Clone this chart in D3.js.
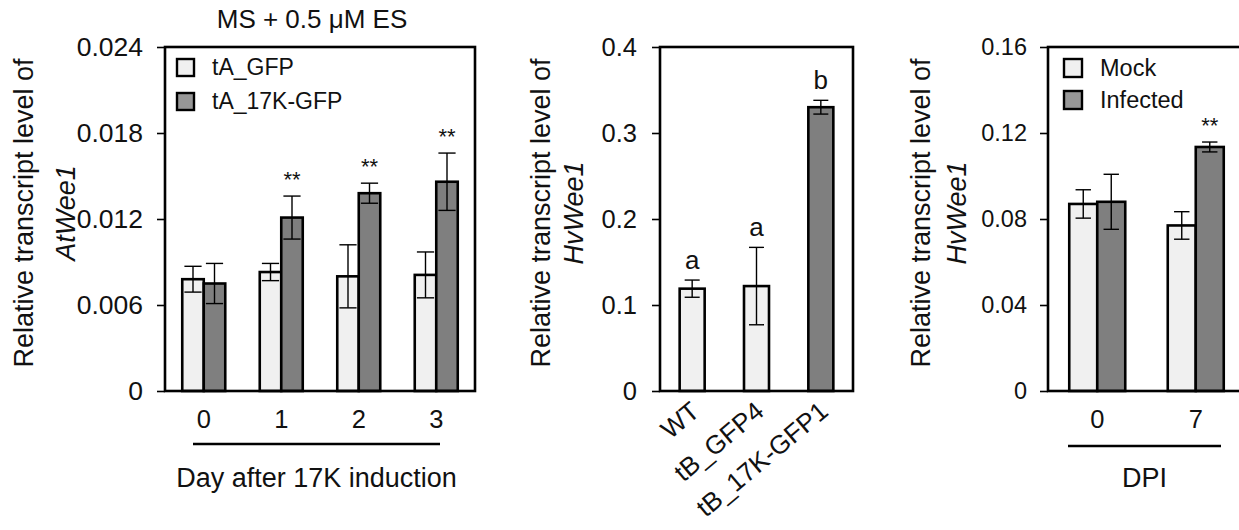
<!DOCTYPE html>
<html>
<head>
<meta charset="utf-8">
<script src="https://cdn.jsdelivr.net/npm/d3@7"></script>
<style>
  html, body { margin: 0; padding: 0; background: #fff; }
  svg { display: block; font-family: "Liberation Sans", Arial, sans-serif; }
</style>
</head>
<body>
<svg id="fig" width="1239" height="530"></svg>
<script>
// Panel A: AtWee1 over days after 17K induction
const days = ["0", "1", "2", "3"];
const atGFP = [0.0078, 0.0083, 0.0080, 0.0081];
const atGFPErr = [0.0009, 0.0006, 0.0022, 0.0016];
const at17K = [0.0075, 0.0121, 0.0138, 0.0146];
const at17KErr = [0.0014, 0.0015, 0.0007, 0.0020];
const atSig = ["", "**", "**", "**"];
const atTicks = [0, 0.006, 0.012, 0.018, 0.024];
const atSeries = ["tA_GFP", "tA_17K-GFP"];

// Panel B: HvWee1 in barley lines
const lines = ["WT", "tB_GFP4", "tB_17K-GFP1"];
const hvLine = [0.119, 0.122, 0.330];
const hvLineErr = [0.010, 0.045, 0.008];
const hvLetters = ["a", "a", "b"];
const hvTicks = [0, 0.1, 0.2, 0.3, 0.4];

// Panel C: HvWee1 after infection
const dpi = ["0", "7"];
const mock = [0.087, 0.077];
const mockErr = [0.0066, 0.0064];
const infected = [0.088, 0.1135];
const infectedErr = [0.0128, 0.0023];
const dpiSig = ["", "**"];
const dpiTicks = [0, 0.04, 0.08, 0.12, 0.16];
const dpiSeries = ["Mock", "Infected"];

const LIGHT = "#f0f0f0";
const DARK = "#7f7f7f";
const LEGEND_DARK = "#979797";

const svg = d3.select("#fig");
svg.append("rect").attr("width", 1239).attr("height", 530).attr("fill", "#fff");

function fmt(d) { return d === 0 ? "0" : String(d); }

function panel(cfg) {
  const g = svg.append("g");
  const y = d3.scaleLinear().domain(cfg.domain).range([cfg.y1, cfg.y0]);
  const x = d3.scaleBand().domain(cfg.cats).range([cfg.x0, cfg.x1]).padding(0);
  const bw = cfg.barW;
  const nS = cfg.series.length;

  // bars
  cfg.series.forEach((s, si) => {
    const off = (si - nS / 2) * bw;
    g.selectAll(null).data(s.values).enter().append("rect")
      .attr("class", "bar")
      .attr("x", (d, i) => x(cfg.cats[i]) + x.bandwidth() / 2 + off)
      .attr("y", d => y(d))
      .attr("width", bw)
      .attr("height", d => y(0) - y(d))
      .attr("fill", (d, i) => s.colors ? s.colors[i] : s.color)
      .attr("stroke", "#000")
      .attr("stroke-width", 2.6);
  });

  // error bars
  cfg.series.forEach((s, si) => {
    const off = (si - nS / 2) * bw + bw / 2;
    const cap = bw * cfg.capFrac / 2;
    s.values.forEach((v, i) => {
      const cx = x(cfg.cats[i]) + x.bandwidth() / 2 + off;
      const e = s.err[i];
      const eg = g.append("g").attr("stroke", "#000").attr("stroke-width", 1.4);
      eg.append("line").attr("x1", cx).attr("x2", cx).attr("y1", y(v + e)).attr("y2", y(v - e));
      eg.append("line").attr("x1", cx - cap).attr("x2", cx + cap).attr("y1", y(v + e)).attr("y2", y(v + e));
      eg.append("line").attr("x1", cx - cap).attr("x2", cx + cap).attr("y1", y(v - e)).attr("y2", y(v - e));
      if (s.marks && s.marks[i]) {
        g.append("text")
          .attr("x", cx).attr("y", y(v + e) - s.markGap)
          .attr("text-anchor", "middle")
          .attr("font-size", s.markSize)
          .attr("fill", "#111")
          .text(s.marks[i]);
      }
    });
  });

  // frame
  g.append("rect")
    .attr("x", cfg.x0).attr("y", cfg.y0)
    .attr("width", cfg.x1 - cfg.x0).attr("height", cfg.y1 - cfg.y0)
    .attr("fill", "none").attr("stroke", "#000").attr("stroke-width", 2.6);

  // y axis
  const ax = g.append("g").attr("transform", `translate(${cfg.x0},0)`)
    .call(d3.axisLeft(y).tickValues(cfg.ticks).tickFormat(fmt).tickSize(8).tickSizeOuter(0).tickPadding(cfg.tickPad));
  ax.select(".domain").remove();
  ax.selectAll(".tick line").attr("stroke", "#000").attr("stroke-width", 1.6);
  ax.selectAll(".tick text")
    .attr("font-family", '"Liberation Sans", Arial, sans-serif')
    .attr("font-size", cfg.tickSize).attr("fill", "#111");

  // y title (two lines, gene name italic)
  const cy = (cfg.y0 + cfg.y1) / 2 - 6;
  g.append("text")
    .attr("transform", `translate(${cfg.yt1},${cy}) rotate(-90)`)
    .attr("text-anchor", "middle").attr("font-size", 27).attr("fill", "#111")
    .text("Relative transcript level of");
  g.append("text")
    .attr("transform", `translate(${cfg.yt2},${cy}) rotate(-90)`)
    .attr("text-anchor", "middle").attr("font-size", 27).attr("font-style", "italic").attr("fill", "#111")
    .text(cfg.gene);

  return { g, x, y };
}

// ---------- Panel A ----------
const pA = panel({
  cats: days, domain: [0, 0.024], ticks: atTicks,
  x0: 165, x1: 475, y0: 47, y1: 391, barW: 21.5, capFrac: 0.8,
  tickSize: 26.5, tickPad: 14, yt1: 33, yt2: 75, gene: "AtWee1",
  series: [
    { values: atGFP, err: atGFPErr, color: LIGHT },
    { values: at17K, err: at17KErr, color: DARK, marks: atSig, markGap: 9, markSize: 22 }
  ]
});

// ---------- Panel B ----------
const pB = panel({
  cats: lines, domain: [0, 0.4], ticks: hvTicks,
  x0: 660, x1: 853, y0: 47, y1: 391, barW: 25, capFrac: 0.6,
  tickSize: 25.5, tickPad: 15, yt1: 550, yt2: 583, gene: "HvWee1",
  series: [
    { values: hvLine, err: hvLineErr, colors: [LIGHT, LIGHT, DARK] }
  ]
});
// group letters
hvLine.forEach((v, i) => {
  pB.g.append("text")
    .attr("x", pB.x(lines[i]) + pB.x.bandwidth() / 2)
    .attr("y", pB.y(v + hvLineErr[i]) - 11)
    .attr("text-anchor", "middle").attr("font-size", 26).attr("fill", "#111")
    .text(hvLetters[i]);
});
// rotated category labels
lines.forEach(l => {
  pB.g.append("text")
    .attr("transform", `translate(${pB.x(l) + pB.x.bandwidth() / 2 + 9},414) rotate(-40)`)
    .attr("text-anchor", "end").attr("font-size", 26).attr("fill", "#111")
    .text(l);
});

// ---------- Panel C ----------
const pC = panel({
  cats: dpi, domain: [0, 0.16], ticks: dpiTicks,
  x0: 1048, x1: 1245, y0: 47, y1: 391, barW: 28, capFrac: 0.55,
  tickSize: 23.5, tickPad: 13, yt1: 930, yt2: 966, gene: "HvWee1",
  series: [
    { values: mock, err: mockErr, color: LIGHT },
    { values: infected, err: infectedErr, color: DARK, marks: dpiSig, markGap: 9, markSize: 22 }
  ]
});

// grouped x labels with underline and title
function groupAxis(p, cats, fontSize, lineX0, lineX1, lineY, title) {
  cats.forEach(c => {
    p.g.append("text")
      .attr("x", p.x(c) + p.x.bandwidth() / 2).attr("y", 428)
      .attr("text-anchor", "middle").attr("font-size", fontSize).attr("fill", "#111")
      .text(c);
  });
  p.g.append("line")
    .attr("x1", lineX0).attr("x2", lineX1).attr("y1", lineY).attr("y2", lineY)
    .attr("stroke", "#000").attr("stroke-width", 2.6);
  p.g.append("text")
    .attr("x", (lineX0 + lineX1) / 2).attr("y", 487)
    .attr("text-anchor", "middle").attr("font-size", 27).attr("fill", "#111")
    .text(title);
}
groupAxis(pA, days, 25.5, 193, 440, 444, "Day after 17K induction");
groupAxis(pC, dpi, 25.5, 1068, 1221, 446, "DPI");

// legends
function legend(p, names, colors, x, y, step, size, fontSize) {
  names.forEach((n, i) => {
    p.g.append("rect")
      .attr("x", x).attr("y", y + i * step).attr("width", size).attr("height", size)
      .attr("fill", colors[i]).attr("stroke", "#000").attr("stroke-width", 2.4);
    p.g.append("text")
      .attr("x", x + size + 18).attr("y", y + i * step + size - 1)
      .attr("font-size", fontSize).attr("fill", "#111")
      .text(n);
  });
}
legend(pA, atSeries, [LIGHT, LEGEND_DARK], 177, 59, 34, 17, 23);
legend(pC, dpiSeries, [LIGHT, LEGEND_DARK], 1064, 59, 32, 18, 23.5);

// panel A heading
svg.append("text")
  .attr("x", 312).attr("y", 28)
  .attr("text-anchor", "middle").attr("font-size", 26).attr("fill", "#111")
  .text("MS + 0.5 μM ES");
</script>
</body>
</html>
